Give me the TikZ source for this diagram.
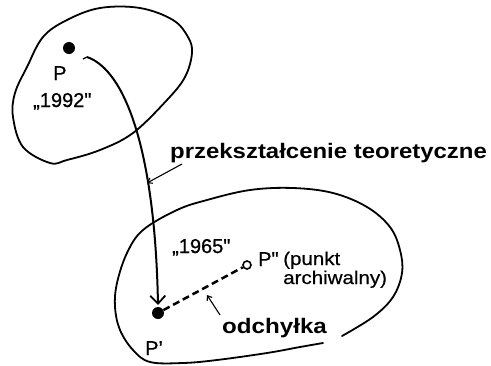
\documentclass[tikz,border=0pt]{standalone}
\usepackage{fontspec}
\setmainfont{Liberation Sans}
\newfontfamily\medfont{Liberation Sans}[FakeBold=0.9]
\newfontfamily\lightmed{Liberation Sans}[FakeBold=0.5]
\usetikzlibrary{arrows.meta}
\begin{document}
\begin{tikzpicture}[x=1pt,y=-1pt,
  blob/.style={line width=1.8pt, line join=round, line cap=round},
  lbl/.style={inner sep=0pt, anchor=base west, font=\fontsize{20}{24}\medfont},
  note/.style={inner sep=0pt, anchor=base west, font=\fontsize{21}{25}\selectfont\bfseries},
  smalllbl/.style={inner sep=0pt, anchor=base west, font=\fontsize{18.5}{22}\lightmed},
  pointer/.style={line width=1.1pt, -{Straight Barb[length=4pt,width=6pt]}},
  dot/.style={circle, fill, minimum size=12pt, inner sep=0pt},
  odot/.style={circle, draw, line width=1.6pt, minimum size=8pt, inner sep=0pt},
]
\useasboundingbox (0,0) rectangle (491,365);
% top region
\draw[blob] plot[smooth cycle, tension=0.6] coordinates {
 (100,8) (140,8) (173,20) (188,37) (192,53) (185,77) (167,100) (133,133)
 (100,150) (67,160) (50,163) (23,147) (13,117) (15,93) (27,67) (43,37) (67,20)};
% bottom region (open near the right bottom)
\draw[blob] plot[smooth, tension=0.6] coordinates {
 (342,336) (373,317) (393,297) (402,273) (400,250) (390,227) (367,207) (333,193)
 (293,188) (250,190) (207,200) (177,210) (143,230) (127,253) (117,283) (115,307)
 (120,330) (133,350) (150,362) (183,363) (217,360) (267,353) (300,347) (323,343)};
% points
\node[dot] (P) at (69,48) {};
\node[dot] (Pp) at (158,313) {};
\node[odot] (Ppp) at (247,265) {};
% labels
\node[lbl] (lP) at (53,80) {P};
\node[lbl] (l1992) at (33,107) {„1992"};
\node[lbl] (l1965) at (172,253) {„1965"};
\node[lbl] (lPpp) at (258,266) {P"};
\node[lbl] (lPp) at (145,355) {P’};
\node[smalllbl] (lpunkt) at (283,265) {\scalebox{1.11}[1]{(punkt}};
\node[smalllbl] (larch) at (283,284) {\scalebox{1.11}[1]{archiwalny)}};
\node[note] (lprz) at (170,158) {\scalebox{1.14}[1]{przekształcenie teoretyczne}};
\node[note] (lodch) at (222,333) {\scalebox{1.15}[1]{odchyłka}};
% main arrow
\coordinate (s) at (87,57);
\coordinate (tip) at (158,305);
\draw[line width=1.3pt] (83,59) -- (s);
\draw[line width=2pt, -{Straight Barb[length=8pt,width=15pt,line width=1.8pt]}]
  (s) .. controls (125,70) and (155,150) .. (tip);
% deviation
\draw[line width=2.5pt, dash pattern=on 7pt off 4pt] (Pp) -- (Ppp);
% pointers
\coordinate (a1) at (182,164);
\coordinate (a1e) at (147,183);
\draw[pointer] (a1) -- (a1e);
\coordinate (a2) at (220,315);
\coordinate (a2e) at (207,295);
\draw[pointer] (a2) -- (a2e);
\end{tikzpicture}
\end{document}
